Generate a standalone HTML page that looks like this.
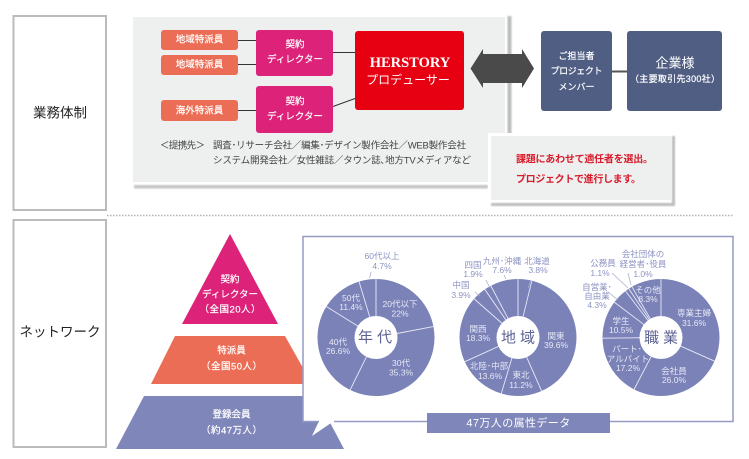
<!DOCTYPE html>
<html lang="ja">
<head>
<meta charset="utf-8">
<style>
html,body{margin:0;padding:0;background:#fff;width:749px;height:459px;overflow:hidden}
svg{display:block;filter:blur(.3px)}
text{font-family:"Liberation Sans","Noto Sans CJK JP",sans-serif;text-anchor:middle;dominant-baseline:central}
.w{fill:#fff;font-size:9.5px;stroke:#fff;stroke-width:.2px}
.g{fill:#444;font-size:9.5px;text-anchor:start}
.r{fill:#d81a2a;font-size:10px;font-weight:bold;text-anchor:start}
.p{fill:#e6e8f4;font-size:8.5px}
.o{fill:#8d93c2;font-size:8.5px}
.c{fill:#5d6494;font-size:15px}
.k{fill:#222;font-size:13.5px}
.pl{stroke:#e8e9f4;stroke-width:.9}
.ld{stroke:#a9adcf;stroke-width:.8}
</style>
</head>
<body>
<svg xmlns="http://www.w3.org/2000/svg" width="749" height="459" viewBox="0 0 749 459">
<defs><filter id="b" x="-5%" y="-5%" width="110%" height="110%"><feGaussianBlur stdDeviation=".7"/></filter></defs>

<rect x="13.500" y="16" width="92.500" height="194" fill="#fff" stroke="#bbb" stroke-width="2"/>
<rect x="13.500" y="220" width="92.500" height="227" fill="#fff" stroke="#bbb" stroke-width="2"/>
<text class="k" x="60" y="113">業務体制</text>
<text class="k" x="60" y="332">ネットワーク</text>

<line x1="107" y1="215.500" x2="733" y2="215.500" stroke="#b4b4b4" stroke-width="1.500" stroke-dasharray="1.500 1.500"/>

<!-- top panel -->
<g filter="url(#b)">
<rect x="507.500" y="16" width="4" height="120" fill="#bdbdbd"/>
<rect x="134" y="185" width="354" height="3.500" fill="#c6c6c6"/>
</g>
<rect x="133" y="17" width="372" height="165" fill="#eeefef"/>

<g stroke="#333" stroke-width="1">
<line x1="238" y1="40.500" x2="256" y2="40.500"/>
<line x1="238" y1="64.500" x2="256" y2="64.500"/>
<line x1="238" y1="110.500" x2="256" y2="110.500"/>
<line x1="333" y1="52.500" x2="355" y2="52.500"/>
<line x1="333" y1="106.500" x2="355" y2="98.500"/>
</g>
<g fill="#ec6d55">
<rect x="161" y="30" width="77" height="20" rx="3"/>
<rect x="161" y="55" width="77" height="20" rx="3"/>
<rect x="161" y="100" width="77" height="21" rx="3"/>
</g>
<text class="w" x="199.500" y="40">地域特派員</text>
<text class="w" x="199.500" y="65">地域特派員</text>
<text class="w" x="199.500" y="111">海外特派員</text>
<g fill="#dc2279">
<rect x="256" y="30" width="77" height="46" rx="3"/>
<rect x="256" y="86" width="77" height="47" rx="3"/>
</g>
<text class="w" x="295" y="45">契約</text>
<text class="w" x="295" y="60">ディレクター</text>
<text class="w" x="295" y="102">契約</text>
<text class="w" x="295" y="117">ディレクター</text>
<rect x="355" y="31" width="109" height="79" rx="3" fill="#e60012"/>
<text x="410" y="63" fill="#fff" style="font-family:'Liberation Serif',serif;font-weight:bold;font-size:14.500px">HERSTORY</text>
<text x="408" y="80" fill="#fff" font-size="12">プロデューサー</text>

<text class="g" x="160" y="146" textLength="45">＜提携先＞</text>
<text class="g" x="213" y="146" textLength="253">調査･リサーチ会社／編集･デザイン製作会社／WEB製作会社</text>
<text class="g" x="213" y="161" textLength="258">システム開発会社／女性雑誌／タウン誌､地方TVメディアなど</text>

<polygon points="470.500,68.500 483,49 483,54 522,54 522,49 534,68.500 522,88 522,83 483,83 483,88" fill="#4a4a4a"/>

<line x1="612" y1="71.500" x2="627" y2="71.500" stroke="#555" stroke-width="2"/>
<rect x="541" y="31" width="71" height="80" rx="3" fill="#505e84"/>
<rect x="627" y="31" width="95" height="80" rx="3" fill="#505e84"/>
<text class="w" x="576.500" y="56" style="font-size:9px">ご担当者</text>
<text class="w" x="576.500" y="71" textLength="52" style="font-size:9px">プロジェクト</text>
<text class="w" x="576.500" y="87" style="font-size:9px">メンバー</text>
<text x="675" y="63" fill="#fff" font-size="13">企業様</text>
<text class="w" x="675" y="79" textLength="90" style="font-size:9px">（主要取引先300社）</text>

<!-- callout -->
<rect x="488" y="133" width="183" height="70" fill="#fff"/>
<g filter="url(#b)">
<rect x="672" y="136" width="3" height="70" fill="#bdbdbd"/>
<rect x="491" y="203" width="184" height="3" fill="#bdbdbd"/>
</g>
<rect x="491" y="136" width="180" height="64" fill="#eeefef"/>
<text class="r" x="516" y="160" textLength="137">課題にあわせて適任者を選出。</text>
<text class="r" x="516" y="180" textLength="125">プロジェクトで進行します。</text>

<!-- pyramid -->
<polygon points="230,234 278,324 182,324" fill="#dc2279"/>
<polygon points="175,336 285,336 312,384 151,384" fill="#ec6d55"/>
<polygon points="144,396 316,396 344,449 116,449" fill="#7f86ba"/>
<text class="w" x="230" y="280">契約</text>
<text class="w" x="230" y="295">ディレクター</text>
<text class="w" x="230" y="310" textLength="61">（全国20人）</text>
<text class="w" x="231.500" y="351">特派員</text>
<text class="w" x="231.500" y="367" textLength="61">（全国50人）</text>
<text class="w" x="231.500" y="415">登録会員</text>
<text class="w" x="231.500" y="431" textLength="61">（約47万人）</text>

<!-- network speech box -->
<polygon points="303,236 733,236 733,421 334,421 312,436 319,421 303,421" fill="#fff"/>
<polyline points="319,421.500 303,421.500 303,236.500 733,236.500 733,421.500 334,421.500" fill="none" stroke="#9599c6" stroke-width="1.500"/>
<rect x="427" y="413" width="183" height="20" fill="#7f86ba"/>
<text x="518.500" y="423.500" fill="#fff" font-size="11" letter-spacing=".4">47万人の属性データ</text>

<!-- pie 1 -->
<g transform="translate(376,337.500)">
<circle r="58.500" fill="#7b82b8"/>
<g class="pl">
<line y1="-20" y2="-59" transform="rotate(0)"/>
<line y1="-20" y2="-59" transform="rotate(79.200)"/>
<line y1="-20" y2="-59" transform="rotate(206.300)"/>
<line y1="-20" y2="-59" transform="rotate(302)"/>
<line y1="-20" y2="-59" transform="rotate(343.100)"/>
</g>
<circle r="21.500" fill="#fff"/>
</g>
<line class="ld" x1="369.500" y1="278" x2="371" y2="272"/>
<text class="o" x="382" y="256">60代以上</text><text class="o" x="382" y="266">4.7%</text>
<text class="p" x="400" y="304">20代以下</text><text class="p" x="400" y="313.500">22%</text>
<text class="p" x="401" y="363">30代</text><text class="p" x="401" y="372.500">35.3%</text>
<text class="p" x="338" y="342">40代</text><text class="p" x="338" y="351">26.6%</text>
<text class="p" x="351" y="298">50代</text><text class="p" x="351" y="307">11.4%</text>
<text class="c" x="377" y="337.500" letter-spacing="4">年代</text>

<!-- pie 2 -->
<g transform="translate(518,337.500)">
<circle r="58.500" fill="#7b82b8"/>
<g class="pl">
<line y1="-20" y2="-59" transform="rotate(0)"/>
<line y1="-20" y2="-59" transform="rotate(13.700)"/>
<line y1="-20" y2="-59" transform="rotate(156.200)"/>
<line y1="-20" y2="-59" transform="rotate(196.600)"/>
<line y1="-20" y2="-59" transform="rotate(245.500)"/>
<line y1="-20" y2="-59" transform="rotate(311.400)"/>
<line y1="-20" y2="-59" transform="rotate(325.400)"/>
<line y1="-20" y2="-59" transform="rotate(332.300)"/>
</g>
<circle r="21.500" fill="#fff"/>
</g>
<line class="ld" x1="504" y1="275" x2="506" y2="279"/>
<line class="ld" x1="486" y1="280" x2="490" y2="288"/>
<line class="ld" x1="475" y1="292" x2="480" y2="296"/>
<line class="ld" x1="531" y1="280" x2="528" y2="288"/>
<text class="o" x="502" y="261">九州･沖縄</text><text class="o" x="502" y="270">7.6%</text>
<text class="o" x="537" y="261">北海道</text><text class="o" x="538" y="270">3.8%</text>
<text class="o" x="473" y="265">四国</text><text class="o" x="473" y="274">1.9%</text>
<text class="o" x="461" y="285">中国</text><text class="o" x="461" y="295">3.9%</text>
<text class="p" x="478" y="329">関西</text><text class="p" x="478" y="338">18.3%</text>
<text class="p" x="556" y="336">関東</text><text class="p" x="556" y="345">39.6%</text>
<text class="p" x="489" y="366">北陸･中部</text><text class="p" x="490" y="376">13.6%</text>
<text class="p" x="521" y="375">東北</text><text class="p" x="521" y="385">11.2%</text>
<text class="c" x="520" y="338" letter-spacing="4">地域</text>

<!-- pie 3 -->
<g transform="translate(661,337.500)">
<circle r="58.500" fill="#7b82b8"/>
<g class="pl">
<line y1="-20" y2="-59" transform="rotate(0)"/>
<line y1="-20" y2="-59" transform="rotate(113.800)"/>
<line y1="-20" y2="-59" transform="rotate(207.400)"/>
<line y1="-20" y2="-59" transform="rotate(269.300)"/>
<line y1="-20" y2="-59" transform="rotate(307.100)"/>
<line y1="-20" y2="-59" transform="rotate(322.600)"/>
<line y1="-20" y2="-59" transform="rotate(326.600)"/>
<line y1="-20" y2="-59" transform="rotate(330.200)"/>
</g>
<circle r="21.500" fill="#fff"/>
</g>
<line class="ld" x1="612" y1="273" x2="628" y2="288"/>
<line class="ld" x1="628" y1="273" x2="631" y2="285"/>
<line class="ld" x1="608" y1="292" x2="618" y2="300"/>
<text class="o" x="643" y="254">会社団体の</text><text class="o" x="643" y="264">経営者･役員</text><text class="o" x="643" y="274">1.0%</text>
<text class="o" x="603" y="263">公務員</text><text class="o" x="600" y="273">1.1%</text>
<text class="o" x="597" y="287">自営業･</text><text class="o" x="597" y="296">自由業</text><text class="o" x="597" y="305">4.3%</text>
<text class="p" x="648" y="290">その他</text><text class="p" x="648" y="299">8.3%</text>
<text class="p" x="694" y="313">専業主婦</text><text class="p" x="694" y="323">31.6%</text>
<text class="p" x="621" y="321">学生</text><text class="p" x="621" y="330">10.5%</text>
<text class="p" x="627" y="349">パート･</text><text class="p" x="628" y="359">アルバイト</text><text class="p" x="628" y="368">17.2%</text>
<text class="p" x="674" y="371">会社員</text><text class="p" x="674" y="380">26.0%</text>
<text class="c" x="663" y="338" letter-spacing="4">職業</text>
</svg>
</body>
</html>
